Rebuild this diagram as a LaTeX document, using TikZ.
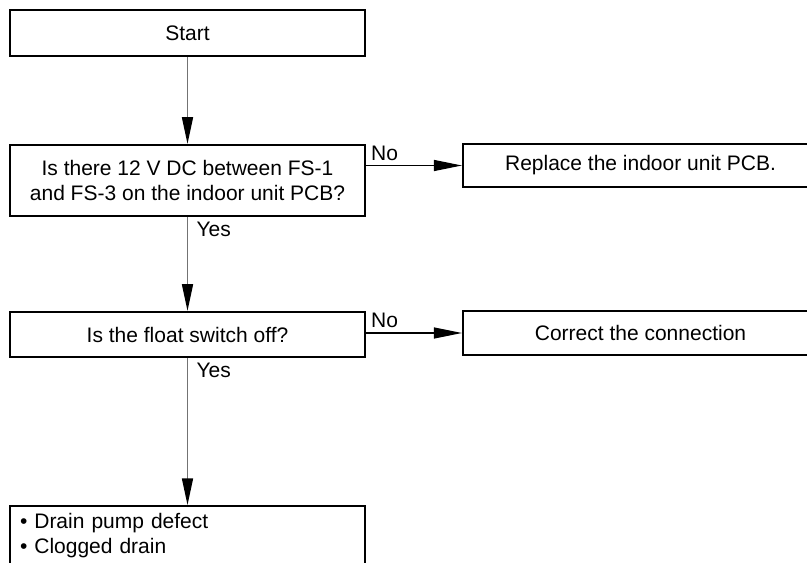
\documentclass[tikz,border=0pt]{standalone}
\usepackage{fontspec}
\setmainfont{Liberation Sans}
\usetikzlibrary{arrows.meta}
\tikzset{
  box/.style={draw, line width=1.7pt, minimum width=266.25pt, inner sep=0pt, align=center},
  flow/.style={draw=black!55, line width=1pt, -{Triangle[length=20pt,width=8.3pt,color=black]}},
  branch/.style={draw=black, line width=0.8pt, -{Triangle[length=21pt,width=8.3pt]}},
}
\begin{document}
\begin{tikzpicture}[x=0.75pt,y=-0.75pt,font=\fontsize{15.75}{18.75}\selectfont]
\useasboundingbox (0,0) rectangle (807,563);
\clip (0,0) rectangle (807,563);
% boxes
\node[box, minimum height=34.5pt] (start) at (187.5,33) {Start};
\node[box, minimum height=53.25pt] (q1) at (187.5,180.5) {Is there 12 V DC between FS-1\\ and FS-3 on the indoor unit PCB?};
\node[box, minimum height=32.25pt] (replace) at (640.5,165.5) {Replace the indoor unit PCB.};
\node[box, minimum height=33.75pt] (q2) at (187.5,334.5) {Is the float switch off?};
\node[box, minimum height=33pt] (correct) at (640.5,333) {Correct the connection};
\node[box, anchor=north, align=left, inner xsep=7.5pt, inner ysep=5pt, text width=251.25pt, text depth=60pt] (fault) at (187.5,505)
  {\textbullet~Drain pump defect\\ \textbullet~Clogged drain};
% connectors
\draw[flow] (start) -- (q1);
\draw[branch] (replace.west -| q1.east) node[above right] {No} -- (replace.west);
\draw[flow] (q1.south) node[below right, xshift=3pt] {Yes} -- (q2.north);
\draw[branch] (correct.west -| q2.east) node[above right] {No} -- (correct.west);
\draw[flow] (q2.south) node[below right, xshift=3pt] {Yes} -- (fault.north);
\end{tikzpicture}
\end{document}
